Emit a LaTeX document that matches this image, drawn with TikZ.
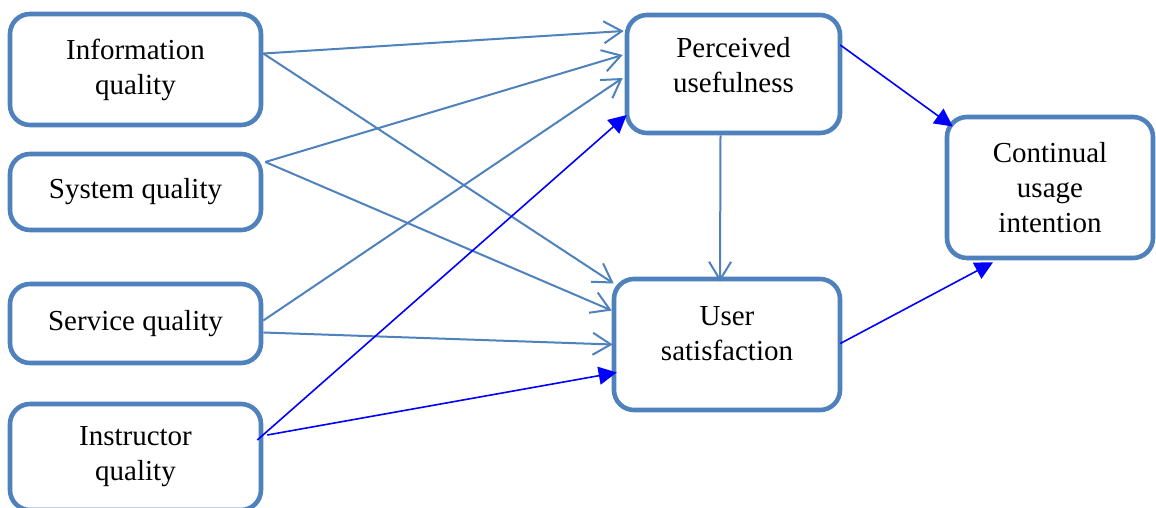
\documentclass[tikz,border=0pt]{standalone}
\usepackage{fontspec}
\setmainfont{Liberation Serif}
\usetikzlibrary{arrows.meta, calc}
\definecolor{boxblue}{RGB}{79, 129, 189}
\definecolor{strong}{RGB}{0, 0, 255}

\begin{document}
\begin{tikzpicture}[x=0.5pt, y=-0.5pt,
  box/.style={draw=boxblue, line width=2.3pt, rounded corners=10pt, fill=white,
    align=center, font=\fontsize{14.5}{17.5}\selectfont, inner sep=0pt},
  weak/.style={draw=boxblue, line width=1pt, -{Straight Barb[length=9pt, width=11pt]}},
  strongline/.style={draw=strong, line width=0.8pt, -{Triangle[length=9pt, width=9pt]}}]
\useasboundingbox (0,0) rectangle (1156,508);

% 独立変数
\node[box, minimum width=125.5pt, minimum height=55.5pt] (info) at (135.5,69.5) {Information\\quality};
\node[box, minimum width=125.5pt, minimum height=38pt] (sys) at (135.5,192) {System quality};
\node[box, minimum width=125.5pt, minimum height=39.5pt] (serv) at (135.5,323.5) {Service quality};
\node[box, minimum width=125.5pt, minimum height=53pt] (instr) at (135.5,457) {Instructor\\quality};

% 媒介変数と従属変数
\node[box, minimum width=106.5pt, minimum height=59pt, text depth=9pt] (pu) at (733.5,74) {Perceived\\usefulness};
\node[box, minimum width=113pt, minimum height=65.5pt, text depth=11pt] (us) at (727,344.5) {User\\satisfaction};
\node[box, minimum width=103pt, minimum height=70.5pt] (cui) at (1050,187.5) {Continual\\usage\\intention};

% 品質からの矢印
\draw[weak] ($(info.east)+(0,-16)$) -- ($(pu.west)+(-1,-43)$);
\draw[weak] ($(info.east)+(0,-16)$) -- ($(us.west)+(2,-61)$);
\draw[weak] ($(sys.east)+(2,-30)$) -- ($(pu.west)+(-2,-19)$);
\draw[weak] ($(sys.east)+(2,-30)$) -- ($(us.west)+(0,-34)$);
\draw[weak] ($(serv.east)+(0,-3)$) -- ($(pu.west)+(-2,4)$);
\draw[weak] ($(serv.east)+(0,9)$) -- ($(us.west)+(1,0)$);
\draw[strongline] ($(instr.east)+(-6,-17)$) -- ($(pu.west)+(2,41)$);
\draw[strongline] ($(instr.east)+(4,-22)$) -- ($(us.west)+(5,28)$);

% 有用性と満足度から継続意図へ
\draw[weak] ($(pu.south)+(-13,0)$) -- ($(us.north)+(-7,5)$);
\draw[strongline] ($(pu.east)+(-2,-29)$) -- ($(cui.west)+(8,-61)$);
\draw[strongline] ($(us.east)+(-2,-1)$) -- ($(cui.south)+(-57,2)$);
\end{tikzpicture}
\end{document}
